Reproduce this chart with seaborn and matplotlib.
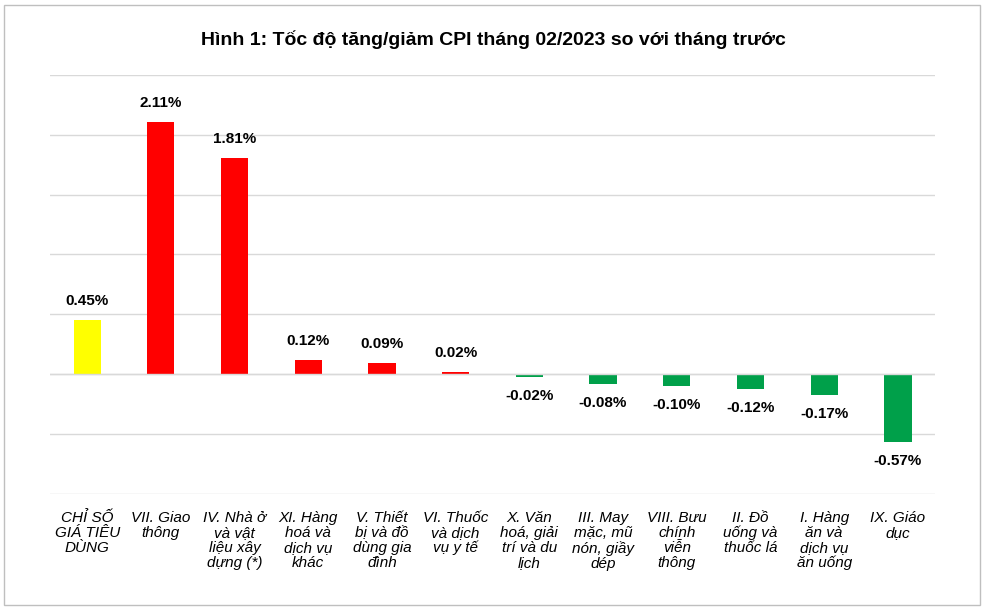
import matplotlib
matplotlib.use("Agg")
import matplotlib.pyplot as plt
import seaborn as sns
import pandas as pd
from matplotlib.patches import Rectangle

categories = ["CHỈ SỐ\nGIÁ TIÊU\nDÙNG", "VII. Giao\nthông", "IV. Nhà ở\nvà vật\nliệu xây\ndựng (*)",
              "XI. Hàng\nhoá và\ndịch vụ\nkhác", "V. Thiết\nbị và đồ\ndùng gia\nđình", "VI. Thuốc\nvà dịch\nvụ y tế",
              "X. Văn\nhoá, giải\ntrí và du\nlịch", "III. May\nmặc, mũ\nnón, giầy\ndép", "VIII. Bưu\nchính\nviễn\nthông",
              "II. Đồ\nuống và\nthuốc lá", "I. Hàng\năn và\ndịch vụ\năn uống", "IX. Giáo\ndục"]
values = [0.45, 2.11, 1.81, 0.12, 0.09, 0.02, -0.02, -0.08, -0.10, -0.12, -0.17, -0.57]
colors = ["#FFFF00"] + ["#FF0000"] * 5 + ["#00A04A"] * 6

plt.rcParams["font.family"] = "Liberation Sans"
fig = plt.figure(figsize=(9.86, 6.09), dpi=100)
fig.patches.append(Rectangle((0.004, 0.006), 0.99, 0.985, transform=fig.transFigure,
                             fill=False, edgecolor="#BFBFBF", lw=1))
ax = fig.add_axes([0.051, 0.189, 0.897, 0.688])
df = pd.DataFrame({"cat": categories, "val": values})
sns.barplot(data=df, x="cat", y="val", hue="cat", palette=colors, legend=False,
            width=0.37, ax=ax, saturation=1)
ax.set_ylim(-1.0, 2.5)
ax.set_yticks([-1.0, -0.5, 0, 0.5, 1.0, 1.5, 2.0, 2.5])
ax.set_yticklabels([])
ax.tick_params(axis="y", length=0)
ax.tick_params(axis="x", length=0, pad=12)
ax.grid(axis="y", color="#D9D9D9", lw=1)
ax.set_axisbelow(True)
ax.axhline(0, color="#D9D9D9", lw=1)
for s in ax.spines.values():
    s.set_visible(False)
ax.set_xlabel(""); ax.set_ylabel("")
ax.set_xticks(range(len(categories)))
ax.set_xticklabels(categories, fontstyle="italic", fontsize=11, va="top", linespacing=1.1)
for i, v in enumerate(values):
    off = 0.1 if v >= 0 else -0.1
    ax.text(i, v + off, f"{v:.2f}%", ha="center", va="bottom" if v >= 0 else "top",
            fontweight="bold", fontsize=11)
fig.text(0.5, 0.935, "Hình 1: Tốc độ tăng/giảm CPI tháng 02/2023 so với tháng trước",
         ha="center", va="center", fontweight="bold", fontsize=14)
fig.savefig("out.png", dpi=100)
